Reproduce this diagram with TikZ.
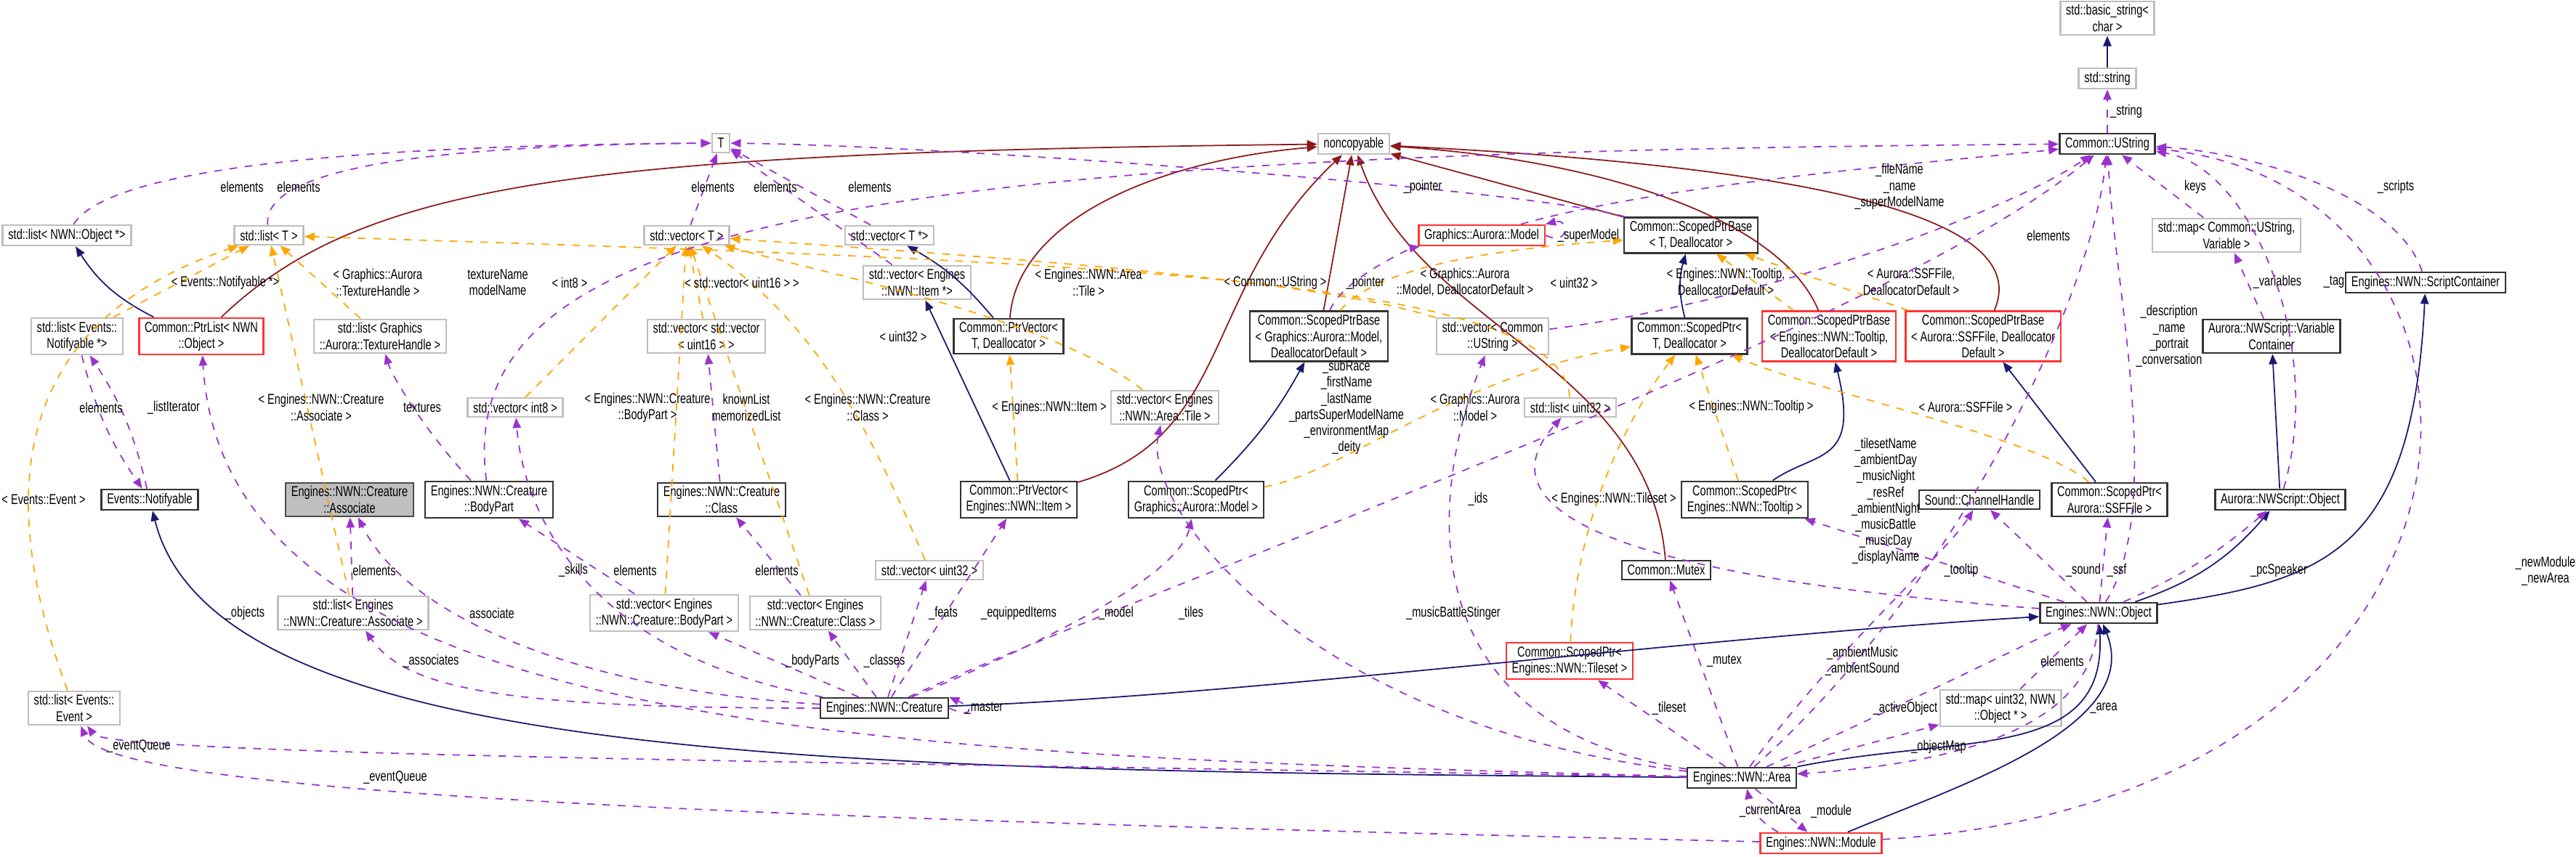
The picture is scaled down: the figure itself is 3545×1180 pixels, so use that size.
\documentclass[tikz,border=0pt]{standalone}
\usepackage{fontspec}
\setmainfont{Liberation Sans}[FakeStretch=0.74]
\usetikzlibrary{arrows.meta}
\definecolor{inhcol}{RGB}{25,25,112}
\definecolor{ncpcol}{RGB}{139,26,26}
\definecolor{usecol}{RGB}{154,50,205}
\definecolor{tplcol}{RGB}{255,165,0}
\definecolor{extcol}{RGB}{191,191,191}
\tikzset{
    box/.style = {shape=rectangle, draw, align=center, font=\fontsize{5.6}{6.3}\selectfont, inner xsep=2.2pt, inner ysep=1.4pt, minimum height=7.4pt, line width=0.7pt},
    cls/.style = {box, draw=black!80},
    ext/.style = {box, draw=extcol},
    redc/.style = {box, draw=red!80},
    grayc/.style = {box, draw=black!70, fill=extcol},
    lbl/.style = {align=center, font=\fontsize{5.6}{6.3}\selectfont, inner sep=0.5pt},
    tip/.style = {-{Triangle[length=4pt, width=3.2pt]}},
    inh/.style = {tip, draw=inhcol, line width=0.5pt},
    ncp/.style = {tip, draw=ncpcol, line width=0.5pt},
    rel/.style = {tip, draw=usecol, dashed, line width=0.5pt},
    tpl/.style = {tip, draw=tplcol, dashed, line width=0.5pt}
}
\begin{document}
\begin{tikzpicture}[x=0.01cm, y=-0.01cm]
    \useasboundingbox (0,0) rectangle (3545,1180);

    % classes
    \node[ext] (T) at (992,197) {T};
    \node[ext] (noncop) at (1863,198) {noncopyable};
    \node[ext] (bstr) at (2900,25) {std::basic\_string<\\ char >};
    \node[ext] (str) at (2900,108) {std::string};
    \node[cls] (ustr) at (2900,198) {Common::UString};
    \node[ext] (lobj) at (92,324) {std::list< NWN::Object *>};
    \node[ext] (listT) at (370,324) {std::list< T >};
    \node[ext] (vecT) at (945,324) {std::vector< T >};
    \node[ext] (vecTp) at (1224,324) {std::vector< T *>};
    \node[redc] (model) at (2039,324) {Graphics::Aurora::Model};
    \node[cls] (spbT) at (2327,324) {Common::ScopedPtrBase\\< T, Deallocator >};
    \node[ext] (mapstr) at (3064,324) {std::map< Common::UString,\\ Variable >};
    \node[ext] (vecItem) at (1262,389) {std::vector< Engines\\::NWN::Item *>};
    \node[cls] (scont) at (3338,389) {Engines::NWN::ScriptContainer};
    \node[ext] (lnot) at (106,463) {std::list< Events::\\Notifyable *>};
    \node[redc] (ptrlist) at (277,463) {Common::PtrList< NWN\\::Object >};
    \node[ext] (ltex) at (523,463) {std::list< Graphics\\::Aurora::TextureHandle >};
    \node[ext] (vvec) at (972,463) {std::vector< std::vector\\< uint16 > >};
    \node[cls] (ptrvecT) at (1388,463) {Common::PtrVector<\\ T, Deallocator >};
    \node[cls] (spbModel) at (1815,463) {Common::ScopedPtrBase\\< Graphics::Aurora::Model,\\ DeallocatorDefault >};
    \node[ext] (vecUstr) at (2054,463) {std::vector< Common\\::UString >};
    \node[cls] (spT) at (2325,463) {Common::ScopedPtr<\\ T, Deallocator >};
    \node[redc] (spbTip) at (2517,463) {Common::ScopedPtrBase\\< Engines::NWN::Tooltip,\\ DeallocatorDefault >};
    \node[redc] (spbSsf) at (2729,463) {Common::ScopedPtrBase\\< Aurora::SSFFile, Deallocator\\ Default >};
    \node[cls] (varc) at (3126,463) {Aurora::NWScript::Variable\\ Container};
    \node[ext] (vint8) at (709,561) {std::vector< int8 >};
    \node[ext] (vecTile) at (1603,561) {std::vector< Engines\\::NWN::Area::Tile >};
    \node[ext] (luint) at (2161,561) {std::list< uint32 >};
    \node[cls] (notif) at (206,688) {Events::Notifyable};
    \node[grayc] (assoc) at (481,688) {Engines::NWN::Creature\\::Associate};
    \node[cls] (bpart) at (673,688) {Engines::NWN::Creature\\::BodyPart};
    \node[cls] (cclass) at (993,688) {Engines::NWN::Creature\\::Class};
    \node[cls] (ptrvecItem) at (1402,688) {Common::PtrVector<\\ Engines::NWN::Item >};
    \node[cls] (spModel) at (1646,688) {Common::ScopedPtr<\\ Graphics::Aurora::Model >};
    \node[cls] (spTip) at (2401,688) {Common::ScopedPtr<\\ Engines::NWN::Tooltip >};
    \node[cls] (sound) at (2724,688) {Sound::ChannelHandle};
    \node[cls] (spSsf) at (2903,688) {Common::ScopedPtr<\\ Aurora::SSFFile >};
    \node[cls] (nwsobj) at (3138,688) {Aurora::NWScript::Object};
    \node[ext] (vuint) at (1279,785) {std::vector< uint32 >};
    \node[cls] (mutex) at (2293,785) {Common::Mutex};
    \node[ext] (lassoc) at (486,844) {std::list< Engines\\::NWN::Creature::Associate >};
    \node[ext] (vbpart) at (914,844) {std::vector< Engines\\::NWN::Creature::BodyPart >};
    \node[ext] (vclass) at (1122,844) {std::vector< Engines\\::NWN::Creature::Class >};
    \node[cls] (object) at (2888,844) {Engines::NWN::Object};
    \node[redc] (spTile) at (2160,910) {Common::ScopedPtr<\\ Engines::NWN::Tileset >};
    \node[cls] (creature) at (1217,975) {Engines::NWN::Creature};
    \node[ext] (levent) at (102,975) {std::list< Events::\\Event >};
    \node[ext] (mapobj) at (2753,975) {std::map< uint32, NWN\\::Object * >};
    \node[cls] (area) at (2397,1071) {Engines::NWN::Area};
    \node[redc] (module) at (2506,1161) {Engines::NWN::Module};

    % inheritance
    \draw[inh] (str) -- (bstr);
    \draw[inh] (ptrlist) to[bend left=15] (lobj);
    \draw[inh] (ptrvecT) to[bend right=10] (vecTp);
    \draw[inh] (ptrvecItem) -- (vecItem);
    \draw[inh] (spModel) to[bend right=8] (spbModel);
    \draw[inh] (spT) to[bend left=15] (spbT);
    \draw[inh] (spTip) .. controls (2500,620) and (2560,640) .. (spbTip);
    \draw[inh] (spSsf) -- (spbSsf);
    \draw[inh] (nwsobj) -- (varc);
    \draw[inh] (object) to[bend right=15] (nwsobj);
    \draw[inh] (object) .. controls (3200,800) and (3320,760) .. (scont);
    \draw[inh] (creature) .. controls (1700,960) and (2300,880) .. (object);
    \draw[inh] (area) .. controls (2700,1010) and (2900,1050) .. (object);
    \draw[inh] (module) .. controls (2700,1080) and (2950,1000) .. (object);
    \draw[inh] (area) .. controls (1200,1060) and (300,1060) .. (notif);

    % noncopyable
    \draw[ncp] (ptrlist) .. controls (500,250) and (800,210) .. (noncop);
    \draw[ncp] (ptrvecT) .. controls (1400,300) and (1600,220) .. (noncop);
    \draw[ncp] (ptrvecItem) .. controls (1700,600) and (1650,400) .. (noncop);
    \draw[ncp] (spbModel) -- (noncop);
    \draw[ncp] (spbT) -- (noncop);
    \draw[ncp] (spbTip) .. controls (2450,300) and (2200,220) .. (noncop);
    \draw[ncp] (spbSsf) .. controls (2800,300) and (2500,230) .. (noncop);
    \draw[ncp] (mutex) .. controls (2270,500) and (1950,450) .. (noncop);

    % template instances
    \draw[tpl] (lnot) -- (listT);
    \draw[tpl] (ltex) -- (listT);
    \draw[tpl] (lassoc) -- (listT);
    \draw[tpl] (levent) .. controls (0,700) and (0,450) .. (listT);
    \draw[tpl] (luint) .. controls (2150,380) and (1500,360) .. (listT);
    \draw[tpl] (vint8) -- (vecT);
    \draw[tpl] (vvec) -- (vecT);
    \draw[tpl] (vbpart) -- (vecT);
    \draw[tpl] (vclass) -- (vecT);
    \draw[tpl] (vuint) .. controls (1200,600) and (1130,450) .. (vecT);
    \draw[tpl] (vecTile) .. controls (1450,440) and (1150,380) .. (vecT);
    \draw[tpl] (vecUstr) .. controls (1800,380) and (1300,350) .. (vecT);
    \draw[tpl] (spbModel) .. controls (1900,360) and (2100,340) .. (spbT);
    \draw[tpl] (spbTip) -- (spbT);
    \draw[tpl] (spbSsf) -- (spbT);
    \draw[tpl] (ptrvecItem) -- (ptrvecT);
    \draw[tpl] (spModel) .. controls (1850,650) and (2000,520) .. (spT);
    \draw[tpl] (spTip) -- (spT);
    \draw[tpl] (spSsf) .. controls (2800,600) and (2500,540) .. (spT);
    \draw[tpl] (spTile) .. controls (2170,700) and (2250,560) .. (spT);

    % members
    \draw[rel] (lobj) .. controls (150,230) and (500,200) .. (T);
    \draw[rel] (listT) .. controls (360,230) and (600,200) .. (T);
    \draw[rel] (vecT) -- (T);
    \draw[rel] (vecTp) -- (T);
    \draw[rel] (vecItem) -- (T);
    \draw[rel] (spbT) .. controls (2100,260) and (1300,200) .. (T);
    \draw[rel] (ustr) -- (str);
    \draw[rel] (model) .. controls (2300,250) and (2700,220) .. (ustr);
    \draw[rel] (model.east) .. controls (2160,340) and (2160,300) .. (model.north east);
    \draw[rel] (spbModel) .. controls (1850,380) and (1950,340) .. (model);
    \draw[rel] (mapstr) -- (ustr);
    \draw[rel] (scont) .. controls (3300,270) and (3100,210) .. (ustr);
    \draw[rel] (vecUstr) .. controls (2400,420) and (2750,300) .. (ustr);
    \draw[rel] (varc) -- (mapstr);
    \draw[rel] (nwsobj) .. controls (3200,480) and (3100,230) .. (ustr);
    \draw[rel] (object) .. controls (2980,700) and (2910,400) .. (ustr);
    \draw[rel] (area) .. controls (2700,800) and (2880,400) .. (ustr);
    \draw[rel] (bpart) .. controls (620,300) and (1200,210) .. (ustr);
    \draw[rel] (creature) .. controls (1600,800) and (2600,450) .. (ustr);
    \draw[rel] (module) .. controls (3500,1100) and (3500,260) .. (ustr);
    \draw[rel] (lnot) to[bend right=10] (notif);
    \draw[rel] (notif) to[bend right=10] (lnot);
    \draw[rel] (bpart) .. controls (590,600) and (540,520) .. (ltex);
    \draw[rel] (cclass) -- (vvec);
    \draw[rel] (lassoc) -- (assoc);
    \draw[rel] (creature) .. controls (800,950) and (560,850) .. (assoc);
    \draw[rel] (creature) .. controls (800,900) and (720,700) .. (vint8);
    \draw[rel] (vbpart) -- (bpart);
    \draw[rel] (vclass) -- (cclass);
    \draw[rel] (area) .. controls (1200,1040) and (310,1010) .. (ptrlist);
    \draw[rel] (creature) -- (vuint);
    \draw[rel] (creature) -- (ptrvecItem);
    \draw[rel] (creature) .. controls (700,975) and (560,950) .. (lassoc);
    \draw[rel] (creature) -- (vbpart);
    \draw[rel] (creature) -- (vclass);
    \draw[rel] (creature.east) .. controls (1340,990) and (1340,975) .. (creature.north east);
    \draw[rel] (area) .. controls (1200,1050) and (150,1040) .. (levent);
    \draw[rel] (module) .. controls (1200,1130) and (150,1100) .. (levent);
    \draw[rel] (object) .. controls (2300,800) and (2020,720) .. (luint);
    \draw[rel] (object) -- (spTip);
    \draw[rel] (object) -- (sound);
    \draw[rel] (object) -- (spSsf);
    \draw[rel] (object) to[bend right=8] (nwsobj);
    \draw[rel] (creature) .. controls (1400,900) and (1620,800) .. (spModel);
    \draw[rel] (area) .. controls (1800,1000) and (1570,700) .. (vecTile);
    \draw[rel] (area) .. controls (1950,1000) and (1960,700) .. (vecUstr);
    \draw[rel] (area) -- (mutex);
    \draw[rel] (area) .. controls (2520,900) and (2680,760) .. (sound);
    \draw[rel] (mapobj) -- (object);
    \draw[rel] (area) -- (spTile);
    \draw[rel] (area) .. controls (2600,980) and (2800,880) .. (object);
    \draw[rel] (object) .. controls (2880,1000) and (2700,1050) .. (area);
    \draw[rel] (area) -- (mapobj);
    \draw[rel] (module) to[bend left=25] (area);
    \draw[rel] (area) -- (module);

    % labels
    \node[lbl] (l1) at (333,257) {elements};
    \node[lbl] (l2) at (411,257) {elements};
    \node[lbl] (l3) at (981,257) {elements};
    \node[lbl] (l4) at (1067,257) {elements};
    \node[lbl] (l5) at (1197,257) {elements};
    \node[lbl] (l6) at (1958,257) {\_pointer};
    \node[lbl] (l7) at (2926,153) {\_string};
    \node[lbl] (l8) at (2614,257) {\_fileName\\\_name\\\_superModelName};
    \node[lbl] (l9) at (3021,257) {keys};
    \node[lbl] (l10) at (3297,257) {\_scripts};
    \node[lbl] (l11) at (2186,324) {\_superModel};
    \node[lbl] (l12) at (2819,324) {elements};
    \node[lbl] (l13) at (310,389) {< Events::Notifyable *>};
    \node[lbl] (l14) at (520,389) {< Graphics::Aurora\\::TextureHandle >};
    \node[lbl] (l15) at (685,389) {textureName\\modelName};
    \node[lbl] (l16) at (784,389) {< int8 >};
    \node[lbl] (l17) at (1021,389) {< std::vector< uint16 > >};
    \node[lbl] (l18) at (1498,389) {< Engines::NWN::Area\\::Tile >};
    \node[lbl] (l19) at (1755,389) {< Common::UString >};
    \node[lbl] (l20) at (1879,389) {\_pointer};
    \node[lbl] (l21) at (2016,389) {< Graphics::Aurora\\::Model, DeallocatorDefault >};
    \node[lbl] (l22) at (2166,389) {< uint32 >};
    \node[lbl] (l23) at (2375,388) {< Engines::NWN::Tooltip,\\ DeallocatorDefault >};
    \node[lbl] (l24) at (2630,388) {< Aurora::SSFFile,\\ DeallocatorDefault >};
    \node[lbl] (l25) at (3134,388) {\_variables};
    \node[lbl] (l26) at (3212,388) {\_tag};
    \node[lbl] (l27) at (2985,463) {\_description\\\_name\\\_portrait\\\_conversation};
    \node[lbl] (l28) at (1243,463) {< uint32 >};
    \node[lbl] (l29) at (139,561) {elements};
    \node[lbl] (l30) at (239,561) {\_listIterator};
    \node[lbl] (l31) at (442,561) {< Engines::NWN::Creature\\::Associate >};
    \node[lbl] (l32) at (581,561) {textures};
    \node[lbl] (l33) at (891,561) {< Engines::NWN::Creature\\::BodyPart >};
    \node[lbl] (l34) at (1027,561) {knownList\\memorizedList};
    \node[lbl] (l35) at (1194,561) {< Engines::NWN::Creature\\::Class >};
    \node[lbl] (l36) at (1444,561) {< Engines::NWN::Item >};
    \node[lbl] (l37) at (1853,561) {\_subRace\\\_firstName\\\_lastName\\\_partsSuperModelName\\\_environmentMap\\\_deity};
    \node[lbl] (l38) at (2030,561) {< Graphics::Aurora\\::Model >};
    \node[lbl] (l39) at (2410,560) {< Engines::NWN::Tooltip >};
    \node[lbl] (l40) at (2705,560) {< Aurora::SSFFile >};
    \node[lbl] (l41) at (2595,690) {\_tilesetName\\\_ambientDay\\\_musicNight\\\_resRef\\\_ambientNight\\\_musicBattle\\\_musicDay\\\_displayName};
    \node[lbl] (l42) at (60,688) {< Events::Event >};
    \node[lbl] (l43) at (2034,687) {\_ids};
    \node[lbl] (l44) at (2221,687) {< Engines::NWN::Tileset >};
    \node[lbl] (l45) at (515,785) {elements};
    \node[lbl] (l46) at (789,785) {\_skills};
    \node[lbl] (l47) at (874,785) {elements};
    \node[lbl] (l48) at (1069,785) {elements};
    \node[lbl] (l49) at (2699,785) {\_tooltip};
    \node[lbl] (l50) at (2867,785) {\_sound};
    \node[lbl] (l51) at (2913,785) {\_ssf};
    \node[lbl] (l52) at (3136,785) {\_pcSpeaker};
    \node[lbl] (l53) at (3503,786) {\_newModule\\\_newArea};
    \node[lbl] (l54) at (337,844) {\_objects};
    \node[lbl] (l55) at (677,844) {associate};
    \node[lbl] (l56) at (1298,844) {\_feats};
    \node[lbl] (l57) at (1402,844) {\_equippedItems};
    \node[lbl] (l58) at (1536,844) {\_model};
    \node[lbl] (l59) at (1639,844) {\_tiles};
    \node[lbl] (l60) at (2000,844) {\_musicBattleStinger};
    \node[lbl] (l61) at (593,910) {\_associates};
    \node[lbl] (l62) at (1118,910) {\_bodyParts};
    \node[lbl] (l63) at (1217,910) {\_classes};
    \node[lbl] (l64) at (2373,910) {\_mutex};
    \node[lbl] (l65) at (2563,910) {\_ambientMusic\\\_ambientSound};
    \node[lbl] (l66) at (2838,910) {elements};
    \node[lbl] (l67) at (1354,975) {\_master};
    \node[lbl] (l68) at (2297,975) {\_tileset};
    \node[lbl] (l69) at (2622,975) {\_activeObject};
    \node[lbl] (l70) at (2895,975) {\_area};
    \node[lbl] (l71) at (191,1028) {\_eventQueue};
    \node[lbl] (l72) at (2668,1028) {\_objectMap};
    \node[lbl] (l73) at (544,1071) {\_eventQueue};
    \node[lbl] (l74) at (2436,1117) {\_currentArea};
    \node[lbl] (l75) at (2520,1117) {\_module};
\end{tikzpicture}
\end{document}
